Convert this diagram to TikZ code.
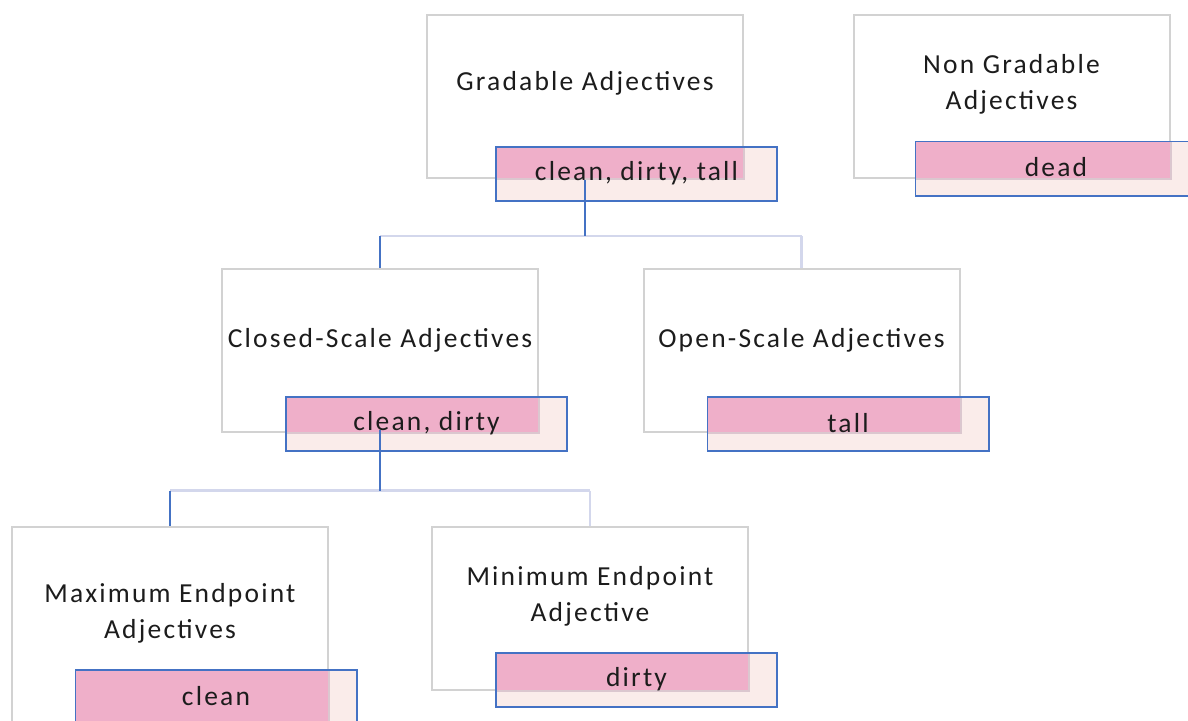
\documentclass[tikz,border=0pt]{standalone}
\usepackage{fontspec}
\setmainfont{Carlito}[LetterSpace=8]
\usepackage{xcolor}
\usepackage{tikz}
\usetikzlibrary{positioning,calc}
\definecolor{boxgray}{HTML}{D2D2D2}
\definecolor{edgeblue}{HTML}{4472C4}
\definecolor{lblpink}{HTML}{FAECEA}
\definecolor{ovpink}{HTML}{EFAFC9}
\definecolor{barlav}{HTML}{D3D7EC}
\definecolor{ink}{HTML}{1C1C1C}

\tikzset{
  itembox/.style={draw=boxgray,line width=2pt,fill=white,minimum width=316pt,inner sep=0pt},
  lblbox/.style={fill=lblpink,minimum width=281pt,minimum height=54pt,inner sep=0pt},
  lbledge/.style={draw=edgeblue,line width=1.6pt},
  ovfill/.style={fill=ovpink},
  titletext/.style={align=center,text=ink,font=\fontsize{27.5}{36}\selectfont},
  lbltext/.style={text=ink,font=\fontsize{27.5}{32}\selectfont},
  stemline/.style={draw=edgeblue,line width=1.6pt},
  barline/.style={draw=barlav,line width=2.4pt}
}

\begin{document}
\begin{tikzpicture}[x=1pt,y=-1pt]
  \useasboundingbox (0,0) rectangle (1188,720);
  \foreach \nm/\bx/\by/\bh/\lx/\ly/\ty/\ttl/\lbl in {%
    grad/585/96.5/163/636.5/174/83/{Gradable Adjectives}/{clean, dirty, tall},
    nongrad/1011.5/96.5/163/1056/168.5/84/{Non Gradable\\Adjectives}/{dead},
    closed/380/350/163/426.5/424/340/{Closed-Scale Adjectives}/{clean, dirty},
    open/801.5/350/163/848/424/340/{Open-Scale Adjectives}/{tall},
    maxep/170/624.5/195/216/697/613/{Maximum Endpoint\\Adjectives}/{clean},
    minep/590/608.5/163/636.5/680/596/{Minimum Endpoint\\Adjective}/{dirty}%
  }{
    \node[itembox,minimum height=\bh pt] (\nm) at (\bx,\by) {};
    \node[lblbox] (\nm lbl) at (\lx,\ly) {};
    % pink where the label sits on the box
    \fill[ovfill] (\nm lbl.north west) rectangle (\nm.south east);
    \draw[boxgray!70!ovpink,line width=2pt] (\nm lbl.north west -| \nm.east) -- (\nm.south east) -- (\nm.south east -| \nm lbl.west);
    \draw[lbledge] (\nm lbl.north west) rectangle (\nm lbl.south east);
    \node[titletext] (\nm ttl) at (\bx,\ty) {\ttl};
  }
  % connectors
  \coordinate (fork1) at ($(grad.south)+(0,57)$);
  \coordinate (fork2) at ($(closed.south)+(0,58)$);
  \draw[barline] (closed.north |- fork1) -- (open.north |- fork1);
  \draw[barline] (open.north |- fork1) -- (open.north);
  \draw[stemline] (closed.north |- fork1) -- (closed.north);
  \draw[stemline] ($(grad.south |- gradlbl.center)+(0,6)$) -- (fork1);
  \draw[barline] (maxep.north |- fork2) -- (minep.north |- fork2);
  \draw[barline] (minep.north |- fork2) -- (minep.north);
  \draw[stemline] (maxep.north |- fork2) -- (maxep.north);
  \draw[stemline] ($(closed.south |- closedlbl.center)+(0,6)$) -- (fork2);
  \foreach \nm/\lbl in {grad/{clean, dirty, tall},nongrad/dead,closed/{clean, dirty},open/tall,maxep/clean,minep/dirty}{
    \node[lbltext] (\nm txt) at ([yshift=1]\nm lbl.center) {\lbl};
  }
\end{tikzpicture}
\end{document}
